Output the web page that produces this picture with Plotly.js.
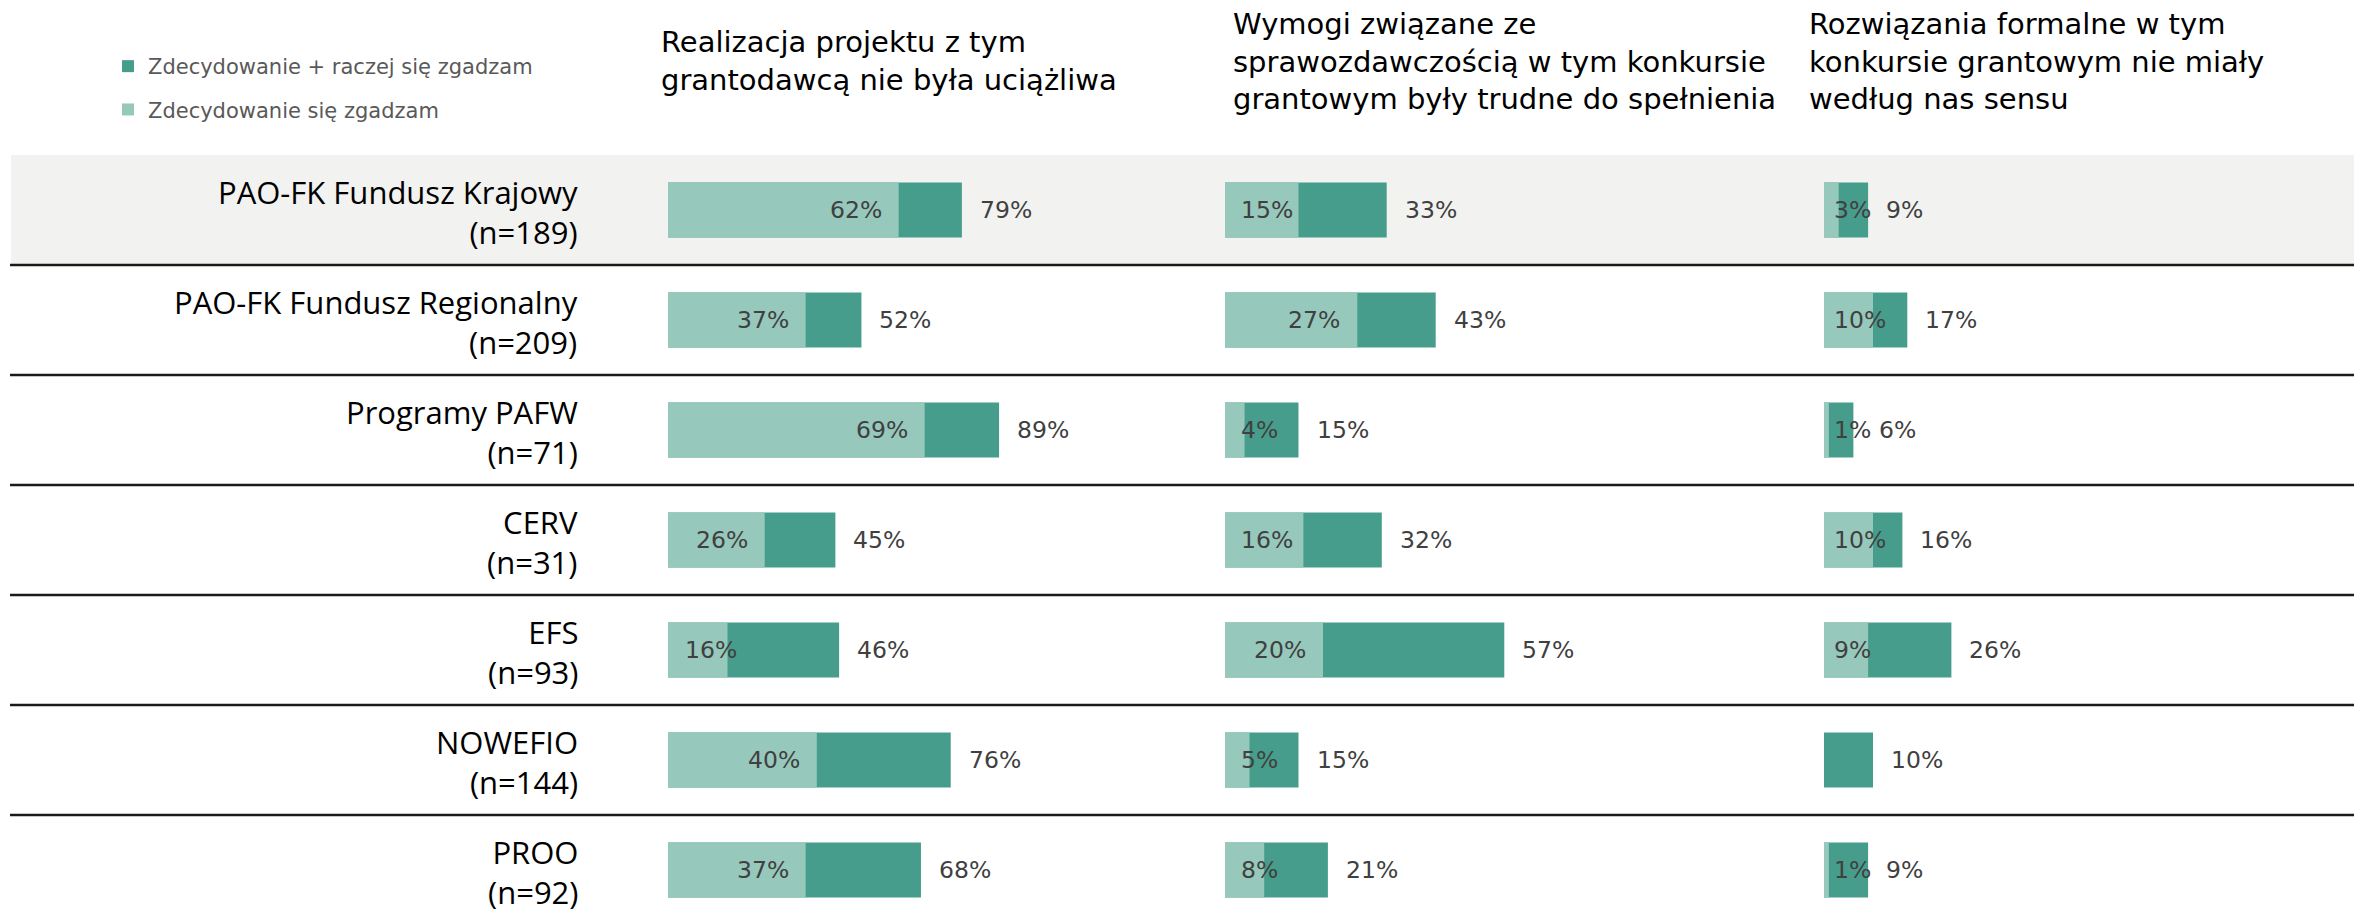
<!DOCTYPE html>
<html>
<head>
<meta charset="utf-8">
<script src="https://cdn.plot.ly/plotly-3.0.1.min.js"></script>
<style>
html, body { margin: 0; padding: 0; background: #ffffff; }
#chart { width: 2354px; height: 909px; }
</style>
</head>
<body>
<div id="chart"></div>
<script>
// ---------- DATA ----------
const categories = [
  'PAO-FK Fundusz Krajowy',
  'PAO-FK Fundusz Regionalny',
  'Programy PAFW',
  'CERV',
  'EFS',
  'NOWEFIO',
  'PROO'
];
const sampleSizes = [189, 209, 71, 31, 93, 144, 92];

const panelTitles = [
  'Realizacja projektu z tym<br>grantodawcą nie była uciążliwa',
  'Wymogi związane ze<br>sprawozdawczością w tym konkursie<br>grantowym były trudne do spełnienia',
  'Rozwiązania formalne w tym<br>konkursie grantowym nie miały<br>według nas sensu'
];

const seriesNames = ['Zdecydowanie + raczej się zgadzam', 'Zdecydowanie się zgadzam'];

// Panel 1: Realizacja projektu ... nie była uciążliwa
const p1Total    = [79, 52, 89, 45, 46, 76, 68];
const p1Strongly = [62, 37, 69, 26, 16, 40, 37];
// Panel 2: Wymogi ... trudne do spełnienia
const p2Total    = [33, 43, 15, 32, 57, 15, 21];
const p2Strongly = [15, 27, 4, 16, 20, 5, 8];
// Panel 3: Rozwiązania formalne ... nie miały sensu
const p3Total    = [9, 17, 6, 16, 26, 10, 9];
const p3Strongly = [3, 10, 1, 10, 9, null, 1];

// ---------- LAYOUT CONSTANTS ----------
const W = 2354, H = 909;
const TOP = 155;              // top of plotting area
const ROW = 110;              // row height in px
const plotH = H - TOP;
const yMax = -0.5 + plotH / ROW;

const DARK = '#479D8B';
const LIGHT = '#96C8BC';
const LABEL_FONT = 'DejaVu Sans';
const LABEL_SIZE = 23.5;
const LABEL_COLOR = '#404040';

const panels = [
  { ax: 'x',  axKey: 'xaxis',  total: p1Total, strongly: p1Strongly, left: 668,  width: 372, startPad: 17, titleX: 661 },
  { ax: 'x2', axKey: 'xaxis2', total: p2Total, strongly: p2Strongly, left: 1225, width: 490, startPad: 16, titleX: 1233 },
  { ax: 'x3', axKey: 'xaxis3', total: p3Total, strongly: p3Strongly, left: 1824, width: 490, startPad: 10, titleX: 1809 }
];
const END_PAD = 17;
const OUT_PAD = 18;
const LABEL_GAP = 8;

const ctx = document.createElement('canvas').getContext('2d');
ctx.font = LABEL_SIZE + 'px "' + LABEL_FONT + '"';
function textWidth(s) { return ctx.measureText(s).width; }

const rowIdx = categories.map((_, i) => i);

const traces = [];
const annotations = [];
const layout = {
  width: W, height: H,
  margin: { l: 0, r: 0, t: TOP, b: 0, pad: 0 },
  paper_bgcolor: '#ffffff',
  plot_bgcolor: 'rgba(0,0,0,0)',
  barmode: 'overlay',
  font: { family: LABEL_FONT, color: LABEL_COLOR },
  showlegend: true,
  legend: {
    x: 108 / W, xanchor: 'left',
    y: 1 + (TOP - 46) / plotH, yanchor: 'top',
    font: { family: 'DejaVu Sans', size: 21, color: '#595959' },
    traceorder: 'grouped',
    tracegroupgap: 13,
    bgcolor: 'rgba(0,0,0,0)'
  },
  yaxis: {
    range: [yMax, -0.5],
    showticklabels: false, showgrid: false, zeroline: false, showline: false,
    fixedrange: true
  },
  shapes: [],
  annotations: annotations
};

panels.forEach((p, k) => {
  layout[p.axKey] = {
    domain: [p.left / W, (p.left + p.width) / W],
    range: [0, 100],
    anchor: 'y',
    showticklabels: false, showgrid: false, zeroline: false, showline: false,
    fixedrange: true
  };
  traces.push({
    type: 'bar', orientation: 'h',
    x: p.total, y: rowIdx,
    xaxis: p.ax, yaxis: 'y',
    width: 0.5,
    marker: { color: DARK, line: { width: 0 } },
    name: seriesNames[0], legendgroup: 'total', showlegend: k === 0,
    hoverinfo: 'skip'
  });
  traces.push({
    type: 'bar', orientation: 'h',
    x: p.strongly, y: rowIdx,
    xaxis: p.ax, yaxis: 'y',
    width: 0.5,
    marker: { color: LIGHT, line: { width: 0 } },
    name: seriesNames[1], legendgroup: 'strongly', showlegend: k === 0,
    hoverinfo: 'skip'
  });

  const pxPer = p.width / 100;
  const insideRight = [];
  // inside labels (strongly)
  p.strongly.forEach((v, i) => {
    insideRight[i] = -Infinity;
    if (v === null || v === undefined) return;
    const t = v + '%';
    const tw = textWidth(t);
    const fits = v * pxPer - END_PAD - tw >= p.startPad;
    insideRight[i] = fits ? v * pxPer - END_PAD : p.startPad + tw;
    annotations.push({
      xref: p.ax, yref: 'y', x: fits ? v : 0, y: i,
      text: t, showarrow: false,
      xanchor: fits ? 'right' : 'left', yanchor: 'middle',
      xshift: fits ? -END_PAD : p.startPad,
      borderpad: 0, borderwidth: 0,
      font: { family: LABEL_FONT, size: LABEL_SIZE, color: LABEL_COLOR }
    });
  });
  // outside labels (total), nudged right if they would collide with inside label
  p.total.forEach((v, i) => {
    const endPx = v * pxPer;
    const leftPx = Math.max(endPx + OUT_PAD, insideRight[i] + LABEL_GAP);
    annotations.push({
      xref: p.ax, yref: 'y', x: v, y: i,
      text: v + '%', showarrow: false,
      xanchor: 'left', yanchor: 'middle', xshift: leftPx - endPx,
      borderpad: 0, borderwidth: 0,
      font: { family: LABEL_FONT, size: LABEL_SIZE, color: LABEL_COLOR }
    });
  });
  // panel title
  annotations.push({
    xref: 'paper', yref: 'paper',
    x: p.titleX / W, y: 1 + (TOP - 61) / plotH,
    xanchor: 'left', yanchor: 'middle', align: 'left',
    text: panelTitles[k], showarrow: false,
    borderpad: 0, borderwidth: 0,
    font: { family: 'DejaVu Sans', size: 29, color: '#000000' }
  });
});

// category labels
categories.forEach((c, i) => {
  annotations.push({
    xref: 'paper', yref: 'y', x: 578 / W, y: i,
    text: c + '<br>(n=' + sampleSizes[i] + ')', showarrow: false,
    xanchor: 'right', yanchor: 'middle', align: 'right',
    yshift: -2, borderpad: 0, borderwidth: 0,
    font: { family: 'Open Sans', size: 31, color: '#000000' }
  });
});

// highlighted first row band
layout.shapes.push({
  type: 'rect', xref: 'paper', yref: 'y',
  x0: 11 / W, x1: 1, y0: -0.5, y1: 0.5,
  fillcolor: '#F2F2F0', line: { width: 0 }, layer: 'below'
});
// row separators
categories.forEach((c, i) => {
  layout.shapes.push({
    type: 'line', xref: 'paper', yref: 'y',
    x0: 10 / W, x1: 1, y0: i + 0.5, y1: i + 0.5,
    line: { color: '#1a1a1a', width: 2.5 }, layer: 'above'
  });
});

Plotly.newPlot('chart', traces, layout, { staticPlot: true, displayModeBar: false });
</script>
</body>
</html>
